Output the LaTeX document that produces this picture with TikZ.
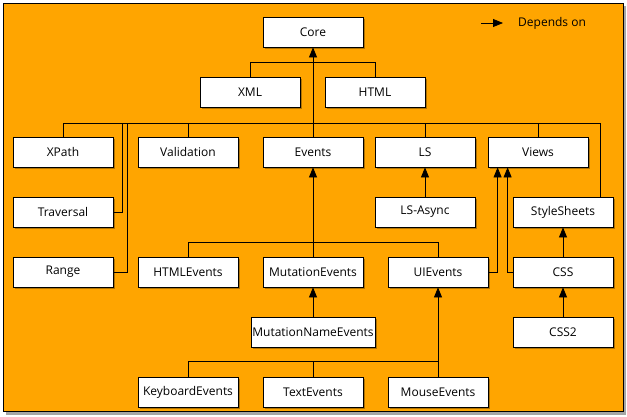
\documentclass[tikz,border=0pt]{standalone}
\usepackage{fontspec}
\setmainfont{Open Sans}
\usetikzlibrary{arrows.meta,shadows}
\definecolor{bgorange}{RGB}{255,165,0}
\begin{document}
\begin{tikzpicture}[x=1pt,y=-1pt,
  box/.style={draw=black,fill=white,line width=0.8pt,minimum width=100pt,minimum height=30pt,inner sep=0pt,
    font=\fontsize{12}{14}\selectfont,
    drop shadow={shadow xshift=1.5pt,shadow yshift=-1.5pt,opacity=0.3,fill=black}},
  widebox/.style={minimum width=124pt},
  con/.style={line width=0.8pt},
  dep/.style={line width=0.8pt,-{Triangle[length=10pt,width=8pt]}}]
\useasboundingbox (0,0) rectangle (627,416);
% frame
\fill[black!35] (6,6) rectangle (626,415);
\draw[line width=0.8pt,fill=bgorange] (3,3) rectangle (623,411);
% nodes
\node[box] (core) at (313,32) {Core};
\node[box] (xml) at (250,92) {XML};
\node[box] (html) at (375,92) {HTML};
\node[box] (xpath) at (63,152) {XPath};
\node[box] (validation) at (188,152) {Validation};
\node[box] (events) at (313,152) {Events};
\node[box] (ls) at (425,152) {LS};
\node[box] (views) at (538,152) {Views};
\node[box] (traversal) at (63,212) {Traversal};
\node[box] (lsasync) at (425,212) {LS-Async};
\node[box] (stylesheets) at (563,212) {StyleSheets};
\node[box] (range) at (63,272) {Range};
\node[box] (htmlevents) at (188,272) {HTMLEvents};
\node[box] (mutationevents) at (313,272) {MutationEvents};
\node[box] (uievents) at (438,272) {UIEvents};
\node[box] (css) at (563,272) {CSS};
\node[box,widebox] (mne) at (313,332) {MutationNameEvents};
\node[box] (css2) at (563,332) {CSS2};
\node[box] (keyboard) at (188,392) {KeyboardEvents};
\node[box] (textevents) at (313,392) {TextEvents};
\node[box] (mouse) at (438,392) {MouseEvents};
% legend
\coordinate (la) at (481,23);
\coordinate (lt) at (503,23);
\node[anchor=west,inner sep=0pt,font=\fontsize{12}{14}\selectfont] (leg) at (518,23) {Depends on};
\draw[dep] (la) -- (lt);
% bus coordinates
\coordinate (busR) at (600,123);
\coordinate (trb) at (122,123);
\coordinate (rab) at (127,123);
\coordinate (uib) at (438,362);
% connectors
\draw[dep] (events.north) -- (core.south);
\draw[con] (xml.north) -- ++(0,-14) -| (html.north);
\draw[con] (xpath.north) |- (busR) -- (busR |- stylesheets.north);
\draw[con] (validation.north) -- (validation.north |- busR);
\draw[con] (ls.north) -- (ls.north |- busR);
\draw[con] (views.north) -- (views.north |- busR);
\draw[con] (traversal.east) -| (trb);
\draw[con] (range.east) -| (rab);
\draw[dep] (lsasync.north) -- (ls.south);
\draw[con] (htmlevents.north) -- ++(0,-14) -| (uievents.north);
\draw[dep] (mutationevents.north) -- (events.south);
\draw[dep] (mne.north) -- (mutationevents.south);
\draw[con] (keyboard.north) -- ++(0,-15) -| (mouse.north);
\draw[con] (textevents.north) -- ++(0,-15);
\draw[dep] (uib) -- (uievents.south);
\draw[dep] (css2.north) -- (css.south);
\draw[dep] (css.north) -- (stylesheets.south);
\draw[dep] (uievents.east) -| ([xshift=10pt]views.south west);
\draw[dep] (css.west) -| ([xshift=20pt]views.south west);
\end{tikzpicture}
\end{document}
